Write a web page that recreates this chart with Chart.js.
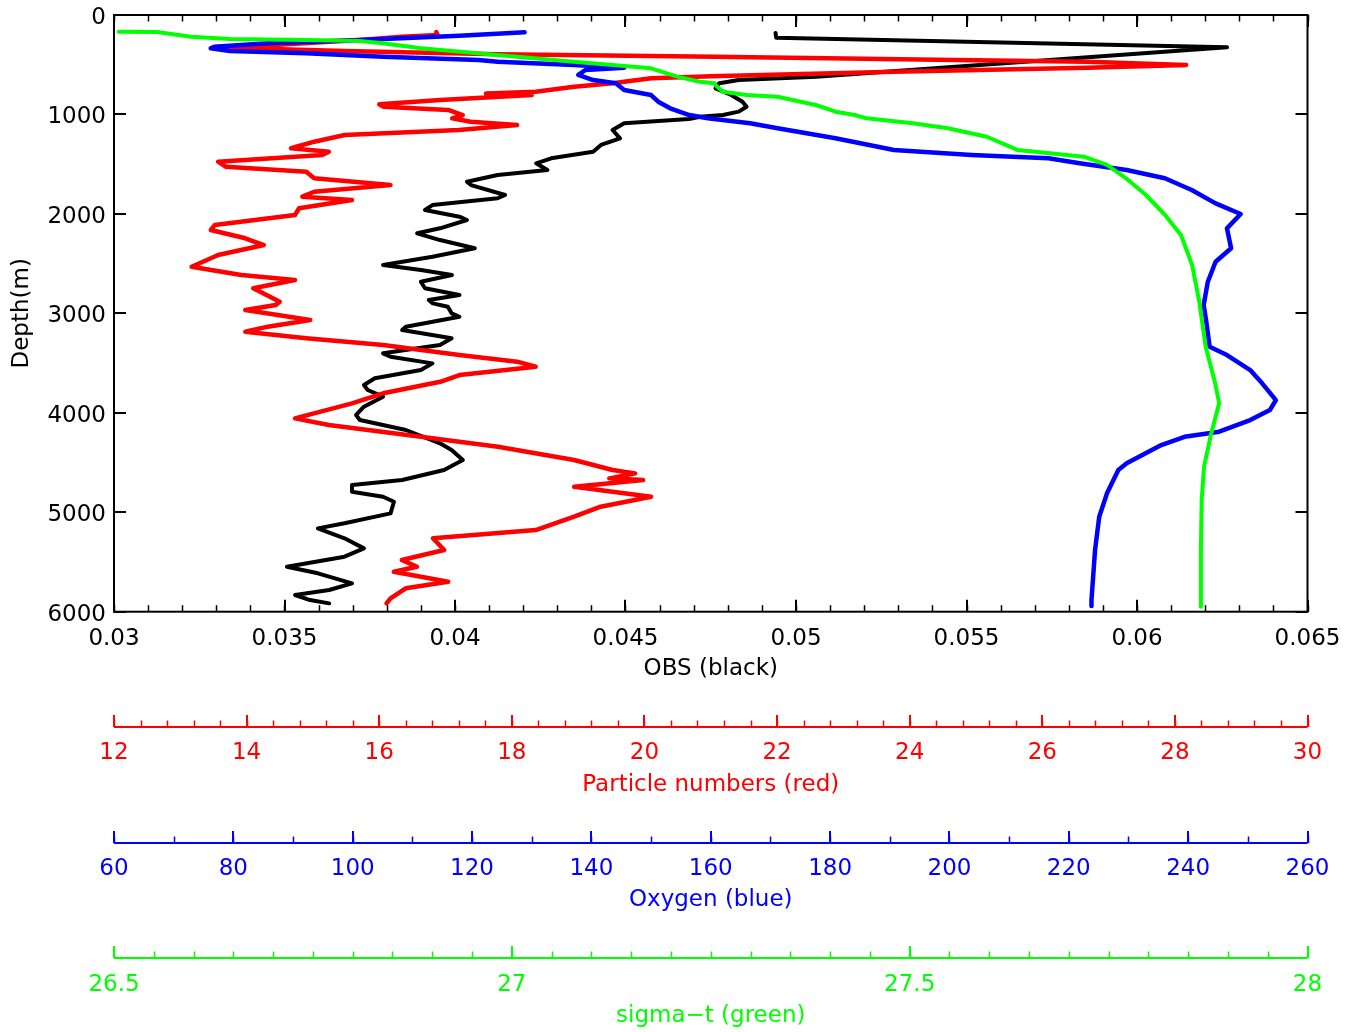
<!DOCTYPE html>
<html>
<head>
<meta charset="utf-8">
<title>OBS / particles / oxygen / sigma-t profile</title>
<script src="https://cdn.jsdelivr.net/npm/chart.js@4.4.1/dist/chart.umd.min.js"></script>
<style>
  html, body { margin: 0; padding: 0; background: #fff; }
  canvas { display: block; }
</style>
</head>
<body>
<canvas id="profile" width="1359" height="1032"></canvas>
<script>
// OBS (black)
const obsDepth = [180, 228, 325, 620, 654, 687, 737, 804, 872, 922, 972, 1006, 1023, 1046, 1089, 1156, 1240, 1307, 1375, 1441,
    1491, 1559, 1609, 1676, 1710, 1810, 1843, 1911, 1961, 2028, 2061, 2145, 2195, 2263, 2346, 2431, 2514, 2564, 2615, 2682,
    2748, 2816, 2866, 2900, 2933, 3000, 3034, 3134, 3168, 3251, 3319, 3402, 3436, 3503, 3570, 3653, 3721, 3771, 3838, 3939,
    4022, 4073, 4173, 4307, 4374, 4475, 4575, 4676, 4726, 4794, 4844, 4894, 5011, 5111, 5162, 5262, 5363, 5447, 5548, 5614,
    5715, 5782, 5832, 5883, 5916];
const obsValue = [0.04940, 0.04942, 0.06264, 0.05059, 0.04832, 0.04775, 0.04764, 0.04810, 0.04843, 0.04855, 0.04832, 0.04786, 0.04719, 0.04686, 0.04496, 0.04462, 0.04484, 0.04428, 0.04405, 0.04282,
    0.04238, 0.04271, 0.04125, 0.04035, 0.04047, 0.04147, 0.04125, 0.03934, 0.03912, 0.04013, 0.04035, 0.03956, 0.03889, 0.03956, 0.04058, 0.03934, 0.03789, 0.03900, 0.03991, 0.03900,
    0.03912, 0.04013, 0.03923, 0.03935, 0.03979, 0.03990, 0.04013, 0.03856, 0.03845, 0.03990, 0.03956, 0.03789, 0.03811, 0.03934, 0.03900, 0.03765, 0.03733, 0.03744, 0.03789, 0.03733,
    0.03710, 0.03721, 0.03856, 0.03956, 0.03990, 0.04023, 0.03968, 0.03845, 0.03698, 0.03698, 0.03789, 0.03821, 0.03811, 0.03676, 0.03598, 0.03676, 0.03733, 0.03676, 0.03507, 0.03598,
    0.03698, 0.03631, 0.03531, 0.03575, 0.03631];

// Particle numbers (red)
const particleDepth = [171, 201, 218, 251, 329, 362, 395, 419, 470, 503, 530, 570, 615, 637, 687, 721, 771, 790, 805, 855,
    898, 922, 955, 1006, 1039, 1073, 1106, 1156, 1207, 1274, 1340, 1375, 1408, 1475, 1526, 1576, 1642, 1710, 1777, 1827,
    1860, 1944, 2011, 2112, 2162, 2245, 2313, 2413, 2531, 2615, 2665, 2748, 2883, 2916, 2967, 3067, 3134, 3185, 3251, 3319,
    3419, 3486, 3537, 3620, 3688, 3804, 3905, 4056, 4123, 4241, 4341, 4475, 4575, 4609, 4659, 4676, 4743, 4844, 4944, 5045,
    5179, 5262, 5380, 5480, 5548, 5598, 5699, 5765, 5866, 5916];
const particleValue = [16.86, 16.88, 16.34, 15.71, 13.69, 15.48, 17.79, 21.06, 26.68, 28.17, 26.68, 23.76, 21.00, 20.10, 19.52, 18.94, 18.36, 17.61, 18.30, 16.92,
    16.00, 16.06, 17.04, 17.26, 17.10, 17.38, 18.08, 17.20, 15.48, 15.02, 14.67, 15.24, 15.14, 13.57, 13.69, 14.90, 15.02, 16.17, 15.02, 14.84,
    15.59, 14.79, 14.73, 13.52, 13.46, 13.98, 14.26, 13.57, 13.17, 13.92, 14.73, 14.10, 14.50, 14.44, 13.98, 14.96, 14.32, 13.98, 14.90, 16.06,
    17.21, 18.08, 18.36, 17.21, 16.92, 16.06, 15.59, 14.73, 15.24, 16.63, 17.79, 18.94, 19.52, 19.86, 19.47, 19.98, 18.94, 20.10, 19.34, 18.94,
    18.36, 16.81, 16.98, 16.34, 16.57, 16.22, 17.04, 16.40, 16.17, 16.11];

// Oxygen (blue)
const oxygenDepth = [174, 208, 251, 285, 319, 335, 362, 385, 419, 453, 470, 503, 530, 553, 603, 654, 687, 754, 805, 872,
    938, 1006, 1039, 1089, 1139, 1240, 1358, 1408, 1441, 1491, 1559, 1642, 1760, 1894, 2001, 2145, 2346, 2481, 2682, 2916,
    3067, 3336, 3419, 3570, 3704, 3872, 3972, 4073, 4190, 4241, 4324, 4508, 4575, 4810, 5045, 5380, 5883, 5943];
const oxygenValue = [128.8, 117.9, 101.2, 85.8, 76.8, 76.2, 79.4, 92.2, 105.1, 121.1, 124.3, 137.1, 145.5, 139.0, 137.8, 140.3, 144.1, 145.5, 150.0, 151.2,
    153.2, 156.4, 159.5, 166.6, 171.2, 180.9, 190.7, 203.7, 216.6, 221.8, 229.7, 236.1, 240.6, 244.6, 248.8, 246.5, 247.2, 244.6, 243.3, 242.6,
    243.0, 243.6, 246.5, 250.4, 252.4, 254.7, 253.7, 250.4, 245.2, 239.4, 235.5, 229.7, 228.3, 226.4, 225.1, 224.4, 223.8, 223.8];

// sigma-t (green)
const sigmaDepth = [168, 170, 218, 241, 251, 261, 285, 335, 402, 470, 536, 620, 671, 687, 704, 771, 805, 822, 905, 972,
    1006, 1039, 1089, 1139, 1224, 1358, 1425, 1508, 1642, 1810, 2011, 2212, 2514, 2883, 3336, 3704, 3905, 4207, 4542, 4877,
    5380, 5950];
const sigmaValue = [26.506, 26.554, 26.597, 26.646, 26.741, 26.809, 26.838, 26.886, 26.982, 27.078, 27.175, 27.208, 27.236, 27.255, 27.256, 27.265, 27.295, 27.334, 27.382, 27.407,
    27.431, 27.446, 27.504, 27.548, 27.597, 27.636, 27.719, 27.748, 27.772, 27.797, 27.821, 27.841, 27.855, 27.864, 27.872, 27.884, 27.889, 27.879, 27.870, 27.867,
    27.866, 27.866];

// tick labels
const depthTicks = [0, 1000, 2000, 3000, 4000, 5000, 6000];
const obsTicks = [0.03, 0.035, 0.04, 0.045, 0.05, 0.055, 0.06, 0.065];
const particleTicks = [12, 14, 16, 18, 20, 22, 24, 26, 28, 30];
const oxygenTicks = [60, 80, 100, 120, 140, 160, 180, 200, 220, 240, 260];
const sigmaTicks = [26.5, 27, 27.5, 28];

Chart.defaults.font.family = "'DejaVu Sans', sans-serif";
Chart.defaults.font.size = 23;
Chart.defaults.color = "#000";

function toPoints(depths, values) {
    return depths.map((d, i) => ({ x: values[i], y: d }));
}

function bottomAxis(min, max, values, title, color, height, labelPad, titlePad) {
    return {
        type: "linear",
        axis: "x",
        position: "bottom",
        min: min,
        max: max,
        grid: { display: false, drawTicks: false, tickLength: 0 },
        border: { display: false },
        afterBuildTicks: (scale) => {
            scale.ticks = values.map((v) => ({ value: v }));
        },
        afterFit: (scale) => {
            scale.height = height;
        },
        ticks: {
            color: color,
            padding: labelPad,
            maxRotation: 0,
            autoSkip: false,
            callback: (v) => String(+v.toFixed(4)),
        },
        title: {
            display: true,
            text: title,
            color: color,
            padding: { top: 0, bottom: titlePad },
        },
    };
}

// tick marks + frame, drawn from the scales
const minorSteps = { x: 0.001, xRed: 0.4, xBlue: 10, xGreen: 0.05 };
const axisColors = { x: "#000000", xRed: "#ff0000", xBlue: "#0000ff", xGreen: "#00ff00" };

const tickMarks = {
    id: "tickMarks",
    afterDraw(chart) {
        const ctx = chart.ctx;
        const area = chart.chartArea;

        function hTicks(scale, y, dir, color) {
            ctx.strokeStyle = color;
            const step = minorSteps[scale.id];
            const n = Math.round((scale.max - scale.min) / step);
            ctx.lineWidth = 1.5;
            for (let i = 0; i <= n; i++) {
                const px = Math.round(scale.getPixelForValue(scale.min + i * step)) + 0.5;
                ctx.beginPath();
                ctx.moveTo(px, y);
                ctx.lineTo(px, y + dir * 6.5);
                ctx.stroke();
            }
            ctx.lineWidth = 2;
            scale.ticks.forEach((t) => {
                const px = Math.round(scale.getPixelForValue(t.value));
                ctx.beginPath();
                ctx.moveTo(px, y);
                ctx.lineTo(px, y + dir * 12);
                ctx.stroke();
            });
        }

        ctx.save();
        // main frame
        ctx.strokeStyle = "#000";
        ctx.lineWidth = 2;
        ctx.strokeRect(area.left, area.top, area.right - area.left, area.bottom - area.top);

        const xs = chart.scales.x;
        hTicks(xs, area.bottom, -1, "#000");
        hTicks(xs, area.top, 1, "#000");

        const ys = chart.scales.y;
        ctx.strokeStyle = "#000";
        ctx.lineWidth = 2;
        ys.ticks.forEach((t) => {
            const py = Math.round(ys.getPixelForValue(t.value));
            ctx.beginPath();
            ctx.moveTo(area.left, py);
            ctx.lineTo(area.left + 12, py);
            ctx.moveTo(area.right, py);
            ctx.lineTo(area.right - 12, py);
            ctx.stroke();
        });

        // the three extra axes
        ["xRed", "xBlue", "xGreen"].forEach((id) => {
            const s = chart.scales[id];
            const y = Math.round(s.top);
            ctx.strokeStyle = axisColors[id];
            ctx.lineWidth = 2;
            ctx.beginPath();
            ctx.moveTo(s.left, y);
            ctx.lineTo(s.right, y);
            ctx.stroke();
            hTicks(s, y, -1, axisColors[id]);
        });
        ctx.restore();
    },
};

const lineStyle = {
    showLine: true,
    pointRadius: 0,
    pointHoverRadius: 0,
    fill: false,
    tension: 0,
    borderJoinStyle: "round",
    borderCapStyle: "round",
};

new Chart(document.getElementById("profile"), {
    type: "scatter",
    data: {
        datasets: [
            Object.assign({}, lineStyle, {
                label: "OBS",
                data: toPoints(obsDepth, obsValue),
                xAxisID: "x",
                yAxisID: "y",
                borderColor: "#000000",
                borderWidth: 4,
                order: 4,
            }),
            Object.assign({}, lineStyle, {
                label: "Particle numbers",
                data: toPoints(particleDepth, particleValue),
                xAxisID: "xRed",
                yAxisID: "y",
                borderColor: "#ff0000",
                borderWidth: 4.5,
                order: 3,
            }),
            Object.assign({}, lineStyle, {
                label: "Oxygen",
                data: toPoints(oxygenDepth, oxygenValue),
                xAxisID: "xBlue",
                yAxisID: "y",
                borderColor: "#0000ff",
                borderWidth: 4.5,
                order: 2,
            }),
            Object.assign({}, lineStyle, {
                label: "sigma-t",
                data: toPoints(sigmaDepth, sigmaValue),
                xAxisID: "xGreen",
                yAxisID: "y",
                borderColor: "#00ff00",
                borderWidth: 4,
                order: 1,
            }),
        ],
    },
    options: {
        responsive: false,
        animation: false,
        devicePixelRatio: 1,
        events: [],
        layout: { padding: { left: 0, right: 51.5, top: 15, bottom: 0 } },
        plugins: {
            legend: { display: false },
            tooltip: { enabled: false },
        },
        scales: {
            x: bottomAxis(0.03, 0.065, obsTicks, "OBS (black)", "#000000", 115, 14, 44),
            xRed: bottomAxis(12, 30, particleTicks, "Particle numbers (red)", "#ff0000", 116, 13, 44),
            xBlue: bottomAxis(60, 260, oxygenTicks, "Oxygen (blue)", "#0000ff", 115.6, 12.5, 44.5),
            xGreen: bottomAxis(26.5, 28, sigmaTicks, "sigma\u2212t (green)", "#00ff00", 73.7, 12.5, 2.5),
            y: {
                type: "linear",
                position: "left",
                reverse: true,
                min: 0,
                max: 6000,
                grid: { display: false, drawTicks: false, tickLength: 0 },
                border: { display: false },
                afterBuildTicks: (scale) => {
                    scale.ticks = depthTicks.map((v) => ({ value: v }));
                },
                afterFit: (scale) => {
                    scale.width = 114;
                    scale.paddingTop = 0;
                    scale.paddingBottom = 0;
                },
                ticks: { color: "#000", padding: 8, labelOffset: 3, callback: (v) => String(v) },
                title: {
                    display: true,
                    text: "Depth(m)",
                    color: "#000",
                    padding: { top: 8, bottom: 0 },
                },
            },
        },
    },
    plugins: [tickMarks],
});
</script>
</body>
</html>
